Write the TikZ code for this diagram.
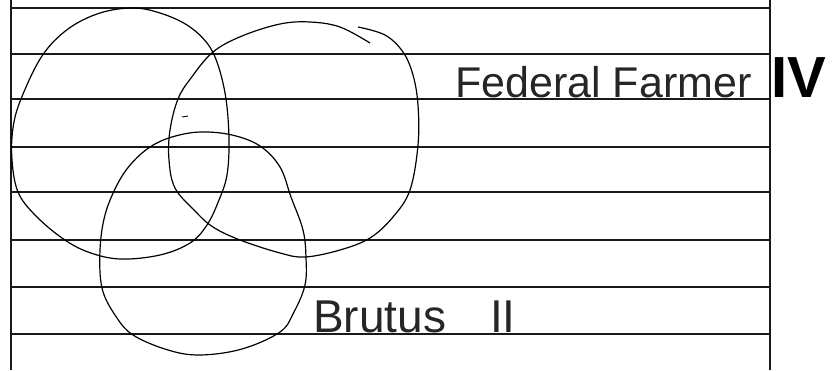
\documentclass[tikz,border=0pt]{standalone}
\usepackage{fontspec}
\setmainfont{Liberation Sans}
\begin{document}
\begin{tikzpicture}[x=1pt,y=-1pt,
  rule/.style={line width=2.1pt,black!90},
  ink/.style={line width=1.2pt,black},
  hand/.style={inner sep=0pt,anchor=base west,black!85}]
\useasboundingbox (0,0) rectangle (833,370);
% ruled paper
\foreach \yy in {8,54,99,147,192,240,287,334}
  \draw[rule] (11,\yy) -- (770,\yy);
\draw[rule] (11,0) -- (11,370);
\draw[rule] (770,0) -- (770,370);
% circle 1 (top left)
\draw[ink] plot[smooth cycle,tension=0.6] coordinates {
 (133,8) (160,13) (187,25) (207,43) (218,65) (226,99) (229,140) (227,175)
 (219,200) (207,225) (190,243) (160,255) (120,259) (88,252) (62,238)
 (35,215) (18,192) (12,160) (13,128) (21,99) (42,56) (68,29) (100,13)};
% circle 2 (top right), drawn in two strokes
\draw[ink] plot[smooth,tension=0.6] coordinates {
 (370,43) (340,27) (310,22) (280,24) (242,36) (213,52) (191,78) (178,99)
 (170,130) (169,160) (175,188) (195,211) (213,227) (240,240) (280,253)
 (305,257) (340,250) (370,238) (393,217) (410,190) (418,145) (418,105)
 (413,75) (403,52) (385,35) (358,27)};
% circle 3 (bottom)
\draw[ink] plot[smooth cycle,tension=0.6] coordinates {
 (200,132) (232,135) (260,146) (280,167) (291,197) (303,230) (306,258)
 (305,285) (294,312) (280,332) (242,349) (200,355) (168,350) (133,335)
 (115,315) (102,288) (100,250) (105,215) (117,185) (131,164) (150,147) (172,137)};
% small stray marks
\draw[ink,line width=0.9pt] (182,117) -- (188,116);
% labels
\node[hand,font=\fontsize{43}{43}\selectfont] (ff) at (455,97) {Federal Farmer};
\node[hand,font=\fontsize{58}{58}\selectfont\bfseries,black] (iv) at (771,97) {IV};
\node[hand,font=\fontsize{46}{46}\selectfont] (br) at (313,332) {Brutus};
\node[hand,font=\fontsize{46}{46}\selectfont] (ii) at (490,332) {II};
\end{tikzpicture}
\end{document}
